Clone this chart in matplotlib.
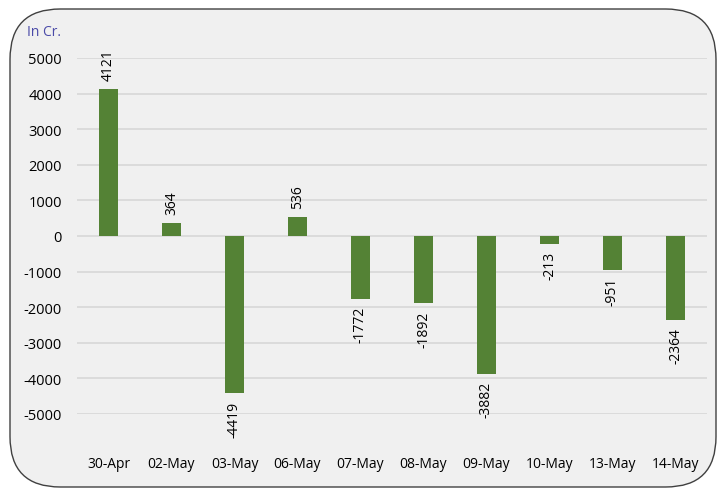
import matplotlib.pyplot as plt
from matplotlib.patches import FancyBboxPatch

dates = ['30-Apr', '02-May', '03-May', '06-May', '07-May', '08-May',
         '09-May', '10-May', '13-May', '14-May']
values = [4121, 364, -4419, 536, -1772, -1892, -3882, -213, -951, -2364]

W, H = 718, 489
plt.rcParams['font.family'] = ['Open Sans', 'DejaVu Sans']

fig = plt.figure(figsize=(W / 100, H / 100), dpi=100)
fig.patch.set_facecolor('white')

# rounded chart frame, behind the axes
frame = FancyBboxPatch((10 / W, 1 - 488 / H), (716 - 10) / W, (488 - 10) / H,
                       boxstyle='round,pad=0,rounding_size=0.07',
                       transform=fig.transFigure, facecolor='#f0f0f0',
                       edgecolor='#404040', linewidth=1.0, mutation_aspect=W / H,
                       zorder=-5)
fig.patches.append(frame)

ax = fig.add_axes([77 / W, 1 - 415 / H, (707 - 77) / W, (415 - 59) / H])
ax.set_facecolor('none')
ax.set_zorder(2)
x = range(len(dates))
ax.bar(x, values, width=0.31, color='#548235', zorder=3)

for i, v in enumerate(values):
    if v >= 0:
        ax.text(i, v + 260, str(v), rotation=90, ha='center', va='bottom', fontsize=10)
    else:
        ax.text(i, v - 200, str(v), rotation=90, ha='center', va='top', fontsize=10)

ax.set_ylim(-5000, 5000)
ax.set_xlim(-0.5, len(dates) - 0.5)
ax.set_yticks(range(-5000, 5001, 1000))
ax.set_yticklabels([str(t) for t in range(-5000, 5001, 1000)], fontsize=10.5)
ax.set_xticks(list(x))
ax.set_xticklabels(dates, fontsize=10)
ax.tick_params(axis='y', length=0, pad=11)
ax.tick_params(axis='x', length=0, pad=30)
ax.grid(axis='y', color='#d9d9d9', linewidth=1.3, zorder=0)
for s in ax.spines.values():
    s.set_visible(False)

fig.text(27 / W, 1 - 33 / H, 'In Cr.', color='#4a4aa8', fontsize=10, va='center')

plt.savefig('out.png', dpi=100)
